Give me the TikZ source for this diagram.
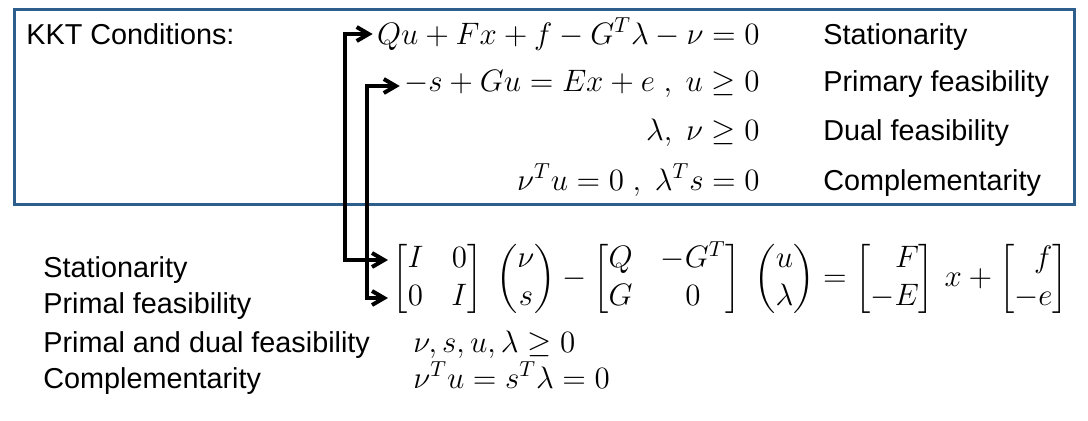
\RequirePackage{fix-cm}
\documentclass[tikz,border=0pt]{standalone}
\usepackage{amsmath,mathtools}
\usepackage[no-math]{fontspec}
\setmainfont{Liberation Sans}
\setsansfont{Liberation Sans}
\usetikzlibrary{positioning,fit,calc,arrows.meta}
\definecolor{kktblue}{RGB}{46,95,140}

\begin{document}
\begin{tikzpicture}[
        x=0.5pt, y=-0.5pt,
        txt/.style={inner sep=0pt, font=\fontsize{14.4}{17}\selectfont},
        mth/.style={inner sep=0pt, font=\fontsize{15.5}{19}\selectfont},
        frame/.style={draw=kktblue, line width=1.6pt},
        link/.style={line width=2pt, shorten <=2pt, shorten >=2pt,
          {Straight Barb[length=6pt,width=7pt]}-{Straight Barb[length=6pt,width=7pt]}}
      ]
      \useasboundingbox (0,0) rectangle (1088,420);

      % KKT box
      \node (box) [frame, anchor=north west, minimum width=530pt, minimum height=97.5pt] at (13,8) {};
      \node (kkt) [txt, anchor=base west] at (26,44) {KKT Conditions:};
      \node (eqs) [mth, anchor=base east] at (760,44) {$Qu+Fx+f-G^T\lambda-\nu=0$};
      \node (eqp) [mth, anchor=base east] at (760,91) {$-s+Gu=Ex+e\ ,\ u\geq 0$};
      \node (eqd) [mth, anchor=base east] at (760,140) {$\lambda,\ \nu\geq 0$};
      \node (eqc) [mth, anchor=base east] at (760,190) {$\nu^Tu=0\ ,\ \lambda^Ts=0$};
      \node (stat) [txt, anchor=base west] at (823,44) {Stationarity};
      \node (pfeas) [txt, anchor=base west] at (823,91) {Primary feasibility};
      \node (dfeas) [txt, anchor=base west] at (823,140) {Dual feasibility};
      \node (comp) [txt, anchor=base west] at (823,190) {Complementarity};

      % compact form
      \node (lstat) [txt, anchor=base west] at (43,277) {Stationarity};
      \node (lpf) [txt, anchor=base west] at (43,313) {Primal feasibility};
      \node (lpd) [txt, anchor=base west] at (43,352) {Primal and dual feasibility};
      \node (lcomp) [txt, anchor=base west] at (43,388) {Complementarity};
      \node (meq) [mth, anchor=west] at (392,279) {\setlength{\arraycolsep}{7pt}$\begin{bmatrix} I & 0\\ 0 & I\end{bmatrix}\;
        \begin{pmatrix}\nu\\ s\end{pmatrix}-\begin{bmatrix} Q & -G^T\\ G & 0\end{bmatrix}\;
        \begin{pmatrix}u\\ \lambda\end{pmatrix}=\begin{bmatrix*}[r] F\\ -E\end{bmatrix*}\,x
        +\begin{bmatrix*}[r] f\\ -e\end{bmatrix*}$};
      \node (mpos) [mth, anchor=base west] at (413,352) {$\nu, s, u, \lambda\geq 0$};
      \node (mcomp) [mth, anchor=base west] at (413,388) {$\nu^Tu=s^T\lambda=0$};

      \coordinate (j1) at (345,260);
      \coordinate (j2) at (367,298);
      \draw[link] (eqs.west |- 0,34) -| (j1) -- (meq.west |- j1);
      \draw[link] (eqp.west |- 0,86) -| (j2) -- (meq.west |- j2);

    \end{tikzpicture}
\end{document}
